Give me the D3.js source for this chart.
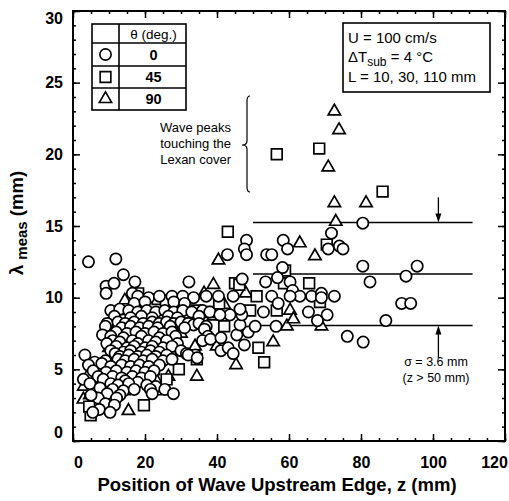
<!DOCTYPE html>
<html>
<head>
<meta charset="utf-8">
<script src="https://cdn.jsdelivr.net/npm/d3@7"></script>
<style>
    body { margin: 0; background: #fff; }
    svg { font-family: "Liberation Sans", Arial, sans-serif; }
</style>
</head>
<body>
<div id="chart"></div>
<script>

// theta = 0 deg -> circles, [z (mm), lambda_meas (mm)]
const circlesTheta0 = [
    [4.3,12.5],[11.9,12.7],[14,11.6],[9.2,10.8],[11.4,11.0],[17.2,11.1],[9.2,10.3],[32.2,11.1],[16.5,10.3],
    [18,10.1],[21,10.0],[24,10.1],[27.5,10.1],[30.5,10.1],[33.5,10.0],[37,10.1],
    [17,9.6],[20,9.7],[28,9.7],[31,9.6],
    [10.5,9.1],[13,9.2],[15.5,9.1],[18,9.0],[20.5,9.1],[23,9.0],[25.5,9.1],[28,9.0],[30.5,9.1],[33,9.0],[36,9.1],[38,9.0],
    [11.5,8.7],[16,8.6],[19,8.7],[22,8.6],[26.5,8.7],[29,8.6],[35,8.7],
    [9.5,8.2],[12.5,8.3],[14.5,8.2],[17,8.3],[19.5,8.2],[22,8.3],[24,8.2],[26,8.3],[28,8.2],[30,8.3],[32,8.2],[33.5,8.1],[35,8.2],[37,8.0],
    [9,8.0],[13.5,7.9],[16,8.0],[18.5,7.9],[21,8.0],[23.5,7.9],[27,8.0],[31,7.9],[36.5,7.8],
    [12,7.6],[15,7.5],[17.5,7.6],[20,7.5],[22.5,7.6],[25,7.5],[27.5,7.6],
    [8.2,7.4],[10.5,7.3],[14,7.2],[19,7.3],[24,7.2],[28.5,7.3],[37.5,7.3],
    [11,7.0],[13,6.9],[16.5,7.0],[18,6.8],[21,7.0],[23,6.9],[26,7.0],[29,6.8],[36,7.0],
    [9.4,6.8],[12,6.6],[15,6.5],[17,6.6],[20,6.5],[22,6.6],[25,6.5],[27.5,6.6],
    [10.5,6.3],[14,6.2],[16,6.3],[19,6.2],[21.5,6.3],[24,6.2],[30,6.3],[31.5,6.1],[34,6.0],
    [3.3,6.0],[11.7,6.1],[13,5.9],[15.5,6.0],[18,5.9],[20.5,6.0],[23,5.9],[26,6.0],[32,6.0],
    [6,5.5],[9,5.6],[12.5,5.7],[14.5,5.6],[17,5.7],[19.5,5.6],[22,5.7],[25,5.6],[27.5,5.7],[34.5,5.8],
    [4.3,5.3],[8,5.4],[10.5,5.2],[13.5,5.3],[16,5.2],[18.5,5.3],[21,5.2],[24,5.3],
    [5.6,4.9],[9.2,4.8],[12,4.9],[15,4.8],[17.5,4.9],[20,4.8],[22.5,4.9],
    [7,4.5],[11,4.5],[13.5,4.4],[16.5,4.5],[19,4.4],[21.5,4.5],
    [2.9,4.3],[8.4,4.3],[14.5,4.2],[18,4.1],
    [4.7,4.0],[10.5,4.0],[12.5,3.9],[15.5,4.0],[20.5,3.9],[23,3.8],
    [7.5,3.7],[11,3.6],[14,3.5],[17,3.6],[21.5,3.6],[25.5,3.6],
    [9.5,3.3],[13,3.2],[22,3.3],[27.9,3.3],
    [7,3.0],[12.1,3.0],[5,3.2],[9,2.6],[11.5,2.5],[7.3,2.2],[10.3,2.0],[5.5,2.0],
    [38.2,7.1],[41.1,7.2],[41.1,6.3],[43.1,6.5],[44.5,6.1],[45.5,7.4],[47.6,6.7],[48.7,7.6],
    [46.4,8.1],[46.9,8.8],[46.4,9.2],[43.6,8.8],[40.8,8.8],[40.4,10.1],[44.5,10.1],
    [42.9,13.0],[48.2,14.0],[47.6,13.4],[48.2,13.0],[47,11.3],[53.8,13.0],[55.2,13.0],[58.4,14.0],
    [59.6,13.4],[58.2,12.1],[56.8,11.4],[53.5,11.1],[60.3,11.1],[61,10.5],[63,10.1],[66.3,10.1],
    [69,10.3],[72.6,10.1],[70.9,13.4],[71.8,14.5],[74,13.6],[75,13.4],[80.5,15.2],[80.5,12.2],
    [82.5,11.1],[92.5,11.5],[95.6,12.2],[91.3,9.6],[93.8,9.6],[86.9,8.4],[76.2,7.3],[80.6,6.9],
    [70.6,8.8],[67.9,8.4],[65.4,9.0],[60.3,10.1],[55.2,10.1],[52.9,9.0],[50.6,8.0],[56.4,8.0],
    [57,9.6],[69,10.0]
];

// theta = 45 deg -> squares
const squaresTheta45 = [
    [56.6,20.0],[68.4,20.4],[86,17.4],[43,14.6],[70.5,13.7],[65.6,11.0],[58.6,11.0],[58.9,11.9],
    [51,10.1],[49.2,9.1],[56.6,9.1],[68.6,9.7],[51.5,6.5],[53.1,5.5],[45,11.0],[46.2,10.9],
    [29.4,5.0],[34.4,5.7],[19.7,2.5],[4.9,1.8],[4.5,2.4],[10.3,3.6],[14.4,3.6],[17.2,4.6],
    [12,5.5],[20,6.3],[27,6.0],[23,3.6],[18.1,10.3],[23.5,9.9],[25.8,9.8],[34.4,9.1],
    [38,9.0],[42,8.0],[30,8.2],[16,7.3],[8,4.2],[22.5,5.0],[26,4.3],[14,9.2],[40.6,9.6]
];

// theta = 90 deg -> triangles
const trianglesTheta90 = [
    [14.4,9.8],[12.5,8.2],[16.5,7.5],[10,6.5],[13,5.0],[17.5,4.8],[4,4.5],[3,3.8],[2.9,2.9],
    [4.7,3.2],[15.4,2.1],[23.2,4.2],[26.5,4.5],[34.4,4.5],[33.9,6.6],[39.9,6.6],[39,8.7],
    [36.4,10.3],[39,10.9],[40.4,12.6],[45.3,5.3],[55.6,6.9],[59.4,8.0],[60.3,9.1],[61.2,8.5],
    [63,13.8],[67.2,12.9],[69,8.0],[70.9,19.1],[72.6,23.0],[73.9,21.7],[72.6,16.6],[73,15.3],
    [81.4,16.6],[48,10.3],[42,9.5],[20,8.5],[18,9.2],[22,6.8],[8,3.5],[30,7.5],[33.5,8.2],
    [26,7.0],[6.5,4.4],[11.5,4.0]
];

const xTicks = [0, 20, 40, 60, 80, 100, 120];
const yTicks = [0, 5, 10, 15, 20, 25, 30];

// mean +/- sigma for z > 50 mm
const meanLambda = 11.65;
const sigmaLambda = 3.6;
const bandZ = [50, 111];
const arrowZ = 101.5;

const legendAngles = ["0", "45", "90"];
const infoLines = ["U = 100 cm/s", "L = 10, 30, 110 mm"];


class LambdaScatterVis {

    constructor(_parentElement) {
        this.parentElement = _parentElement;
        this.initVis();
    }

    initVis() {
        let vis = this;

        vis.margin = { top: 11, left: 73 };
        vis.width = 432;
        vis.height = 430;

        vis.svg = d3.select("#" + vis.parentElement).append("svg")
            .attr("width", 509)
            .attr("height", 501);

        vis.g = vis.svg.append("g")
            .attr("transform", "translate(" + vis.margin.left + "," + vis.margin.top + ")");

        vis.x = d3.scaleLinear().domain([0, 120]).range([0, vis.width]);
        vis.y = d3.scaleLinear().domain([0, 30]).range([vis.height, 0]);

        vis.drawAxes();
        vis.drawBand();
        vis.drawPoints();
        vis.drawLegend();
        vis.drawNotes();
    }

    drawAxes() {
        let vis = this;

        // minor ticks (inward) on all four sides
        let minorX = d3.range(0, 121, 5), minorY = d3.range(0, 31, 1);
        let sides = [
            [d3.axisBottom(vis.x).tickValues(minorX).tickSize(-3), "translate(0," + vis.height + ")"],
            [d3.axisTop(vis.x).tickValues(minorX).tickSize(-3), null],
            [d3.axisLeft(vis.y).tickValues(minorY).tickSize(-3), null],
            [d3.axisRight(vis.y).tickValues(minorY).tickSize(-3), "translate(" + vis.width + ",0)"],
            [d3.axisBottom(vis.x).tickValues(xTicks).tickSize(-7), "translate(0," + vis.height + ")"],
            [d3.axisTop(vis.x).tickValues(xTicks).tickSize(-7), null],
            [d3.axisLeft(vis.y).tickValues(yTicks).tickSize(-7), null],
            [d3.axisRight(vis.y).tickValues(yTicks).tickSize(-7), "translate(" + vis.width + ",0)"]
        ];
        sides.forEach(s => {
            let a = vis.g.append("g").attr("class", "ticks").call(s[0].tickFormat(""));
            if (s[1]) a.attr("transform", s[1]);
            a.select(".domain").remove();
            a.selectAll("line").attr("stroke", "#000").attr("stroke-width", 1.5);
        });

        // frame
        vis.g.append("rect")
            .attr("width", vis.width)
            .attr("height", vis.height)
            .attr("fill", "none")
            .attr("stroke", "#000")
            .attr("stroke-width", 2);

        // tick labels
        let xLab = vis.g.append("g")
            .attr("transform", "translate(0," + vis.height + ")")
            .call(d3.axisBottom(vis.x).tickValues(xTicks).tickSize(0).tickPadding(16));
        let yLab = vis.g.append("g")
            .call(d3.axisLeft(vis.y).tickValues(yTicks).tickSize(0).tickPadding(10));
        [xLab, yLab].forEach(a => {
            a.select(".domain").remove();
            a.selectAll("text")
                .attr("fill", "#000")
                .style("font-size", "16px")
                .style("font-weight", "bold")
                .style("font-family", "'Liberation Sans', Arial, sans-serif");
        });
        // end labels sit inside the frame corners
        xLab.selectAll("text").filter(d => d === 0).attr("x", 5);
        xLab.selectAll("text").filter(d => d === 120).attr("x", -11);
        yLab.selectAll("text").filter(d => d === 0).attr("y", -9);
        yLab.selectAll("text").filter(d => d === 30).attr("y", 7);

        // axis titles
        vis.svg.append("text")
            .attr("x", 277)
            .attr("y", 491)
            .attr("text-anchor", "middle")
            .style("font-size", "18.5px")
            .style("font-weight", "bold")
            .text("Position of Wave Upstream Edge, z (mm)");

        let yt = vis.svg.append("text")
            .attr("transform", "translate(23,223) rotate(-90)")
            .attr("text-anchor", "middle")
            .style("font-size", "18.5px")
            .style("font-weight", "bold");
        yt.append("tspan").text("λ ");
        yt.append("tspan").attr("dy", 4).style("font-size", "15px").text("meas");
        yt.append("tspan").attr("dy", -4).text("  (mm)");
    }

    drawBand() {
        let vis = this;
        let levels = [meanLambda + sigmaLambda, meanLambda, meanLambda - sigmaLambda];

        vis.g.selectAll(".band-line")
            .data(levels)
            .enter()
            .append("line").attr("class", "band-line")
            .attr("x1", vis.x(bandZ[0]))
            .attr("x2", vis.x(bandZ[1]))
            .attr("y1", d => vis.y(d))
            .attr("y2", d => vis.y(d))
            .attr("stroke", "#000")
            .attr("stroke-width", 1.5);

        // sigma arrows
        let ax = vis.x(arrowZ);
        let arrows = [
            { from: levels[0] + 1.75, to: levels[0] },
            { from: levels[2] - 2.25, to: levels[2] }
        ];
        arrows.forEach(a => {
            let y0 = vis.y(a.from), y1 = vis.y(a.to);
            let dir = y1 > y0 ? 1 : -1;
            vis.g.append("line")
                .attr("x1", ax).attr("x2", ax)
                .attr("y1", y0).attr("y2", y1 - dir * 6)
                .attr("stroke", "#000").attr("stroke-width", 1.3);
            vis.g.append("path")
                .attr("d", "M" + (ax - 3) + "," + (y1 - dir * 9) + "L" + (ax + 3) + "," + (y1 - dir * 9) + "L" + ax + "," + y1 + "Z")
                .attr("fill", "#000");
        });
    }

    drawPoints() {
        let vis = this;
        let circle = d3.symbol().type(d3.symbolCircle).size(100);
        let square = d3.symbol().type(d3.symbolSquare).size(115);
        let triangle = d3.symbol().type(d3.symbolTriangle).size(66);

        // triangles first so the dense circle cloud sits on top, as in the original
        let series = [
            { data: trianglesTheta90, path: triangle, cls: "pt-triangle" },
            { data: squaresTheta45, path: square, cls: "pt-square" },
            { data: circlesTheta0, path: circle, cls: "pt-circle" }
        ];

        series.forEach(s => {
            vis.g.selectAll("." + s.cls)
                .data(s.data)
                .enter()
                .append("path").attr("class", s.cls)
                .attr("d", s.path())
                .attr("transform", d => "translate(" + vis.x(d[0]) + "," + vis.y(d[1]) + ")")
                .attr("fill", "#fff")
                .attr("stroke", "#000")
                .attr("stroke-width", 1.7);
        });
        vis.symbols = [circle, square, triangle];
    }

    drawLegend() {
        let vis = this;
        let lg = vis.svg.append("g").attr("class", "legend-table");
        let left = 92, mid = 119, right = 186;
        let rows = [24, 43, 66, 88, 110];

        lg.append("rect")
            .attr("x", left).attr("y", rows[0])
            .attr("width", right - left).attr("height", rows[4] - rows[0])
            .attr("fill", "#fff").attr("stroke", "#000").attr("stroke-width", 1.6);
        lg.append("line")
            .attr("x1", mid).attr("x2", mid).attr("y1", rows[0]).attr("y2", rows[4])
            .attr("stroke", "#000").attr("stroke-width", 1.6);
        rows.slice(1, 4).forEach(r => {
            lg.append("line")
                .attr("x1", left).attr("x2", right).attr("y1", r).attr("y2", r)
                .attr("stroke", "#000").attr("stroke-width", 1.6);
        });

        lg.append("text")
            .attr("x", (mid + right) / 2 + 1).attr("y", 39)
            .attr("text-anchor", "middle")
            .style("font-size", "13.5px")
            .text("θ (deg.)");

        legendAngles.forEach((a, i) => {
            let cy = (rows[i + 1] + rows[i + 2]) / 2;
            lg.append("path")
                .attr("d", vis.symbols[i]())
                .attr("transform", "translate(" + ((left + mid) / 2) + "," + cy + ")")
                .attr("fill", "#fff").attr("stroke", "#000").attr("stroke-width", 1.6);
            lg.append("text")
                .attr("x", (mid + right) / 2 + 1).attr("y", cy + 5)
                .attr("text-anchor", "middle")
                .style("font-size", "14.5px")
                .style("font-weight", "bold")
                .text(a);
        });
    }

    drawNotes() {
        let vis = this;

        // parameter box
        vis.svg.append("rect")
            .attr("x", 343).attr("y", 23).attr("width", 147).attr("height", 69)
            .attr("fill", "#fff").attr("stroke", "#000").attr("stroke-width", 1.6);
        vis.svg.append("text").attr("x", 348).attr("y", 43)
            .style("font-size", "15px").text(infoLines[0]);
        let dt = vis.svg.append("text").attr("x", 348).attr("y", 62)
            .style("font-size", "15px");
        dt.append("tspan").text("ΔT");
        dt.append("tspan").attr("dy", 4).style("font-size", "12px").text("sub");
        dt.append("tspan").attr("dy", -4).text(" = 4 °C");
        vis.svg.append("text").attr("x", 348).attr("y", 82)
            .style("font-size", "15px").text(infoLines[1]);

        // annotation with brace
        ["Wave peaks", "touching the", "Lexan cover"].forEach((t, i) => {
            vis.svg.append("text")
                .attr("x", 231).attr("y", 132 + i * 16)
                .attr("text-anchor", "end")
                .style("font-size", "13px")
                .text(t);
        });
        let bx = 247, by0 = 96, by1 = 192, bm = 145;
        vis.svg.append("path")
            .attr("d", "M" + (bx + 3) + "," + by0 + " Q" + bx + "," + by0 + " " + bx + "," + (by0 + 5) +
                " L" + bx + "," + (bm - 4) + " Q" + bx + "," + bm + " " + (bx - 5) + "," + bm +
                " Q" + bx + "," + bm + " " + bx + "," + (bm + 4) +
                " L" + bx + "," + (by1 - 5) + " Q" + bx + "," + by1 + " " + (bx + 3) + "," + by1)
            .attr("fill", "none").attr("stroke", "#000").attr("stroke-width", 1.2);

        // sigma note
        vis.svg.append("text").attr("x", 436).attr("y", 366)
            .attr("text-anchor", "middle").style("font-size", "12.5px").text("σ = 3.6 mm");
        vis.svg.append("text").attr("x", 436).attr("y", 382)
            .attr("text-anchor", "middle").style("font-size", "12.5px").text("(z > 50 mm)");
    }
}

new LambdaScatterVis("chart");
</script>
</body>
</html>
